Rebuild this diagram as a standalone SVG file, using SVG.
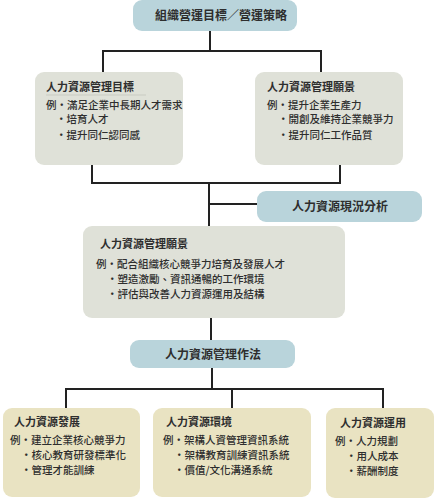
<svg xmlns="http://www.w3.org/2000/svg" width="435" height="500" viewBox="0 0 435 500">
<style>
text{font-family:"Noto Sans CJK TC","Noto Sans CJK SC",sans-serif;fill:#2e2e2e}
.blue{fill:#b9d4db}
.gray{fill:#dfe1d8}
.beige{fill:#e9e3c2}
.h{font-size:12px;font-weight:bold}
.t{font-size:11px;font-weight:bold}
.b{font-size:10.5px;font-weight:500}
.ln{stroke:#222;stroke-width:2;fill:none}
</style>
<rect width="435" height="500" fill="#fff"/>
<g id="connectors">
<path class="ln" d="M210,31 V51 M103,72 V51 H321 V72"/>
<path class="ln" d="M92,165 V183 H340 V165 M209,183 V226 M209,204 H257"/>
<path class="ln" d="M211,318 V340"/>
<path class="ln" d="M212,368 V389 M66,408 V389 H383 V408 M232,389 V408"/>
</g>
<g id="n-top">
<rect class="blue" x="133" y="0" width="164" height="31" rx="9"/>
<text class="h" x="221" y="20" text-anchor="middle">組織營運目標／營運策略</text>
</g>
<g id="n-goal">
<rect class="gray" x="35" y="72" width="148" height="93" rx="9"/>
<text class="t" x="46" y="91">人力資源管理目標</text>
<line x1="46" y1="95" x2="146" y2="95" stroke="#c9cbc2" stroke-width="1"/>
<text class="b" x="46" y="109">例・滿足企業中長期人才需求</text>
<text class="b" x="56" y="123">・培育人才</text>
<text class="b" x="56" y="139">・提升同仁認同感</text>
</g>
<g id="n-vision1">
<rect class="gray" x="255" y="72" width="148" height="93" rx="9"/>
<text class="t" x="267" y="91">人力資源管理願景</text>
<text class="b" x="267" y="109">例・提升企業生產力</text>
<text class="b" x="278" y="123">・開創及維持企業競爭力</text>
<text class="b" x="278" y="139">・提升同仁工作品質</text>
</g>
<g id="n-analysis">
<rect class="blue" x="257" y="191" width="165" height="31" rx="9"/>
<text class="h" x="340" y="211" text-anchor="middle">人力資源現況分析</text>
</g>
<g id="n-vision2">
<rect class="gray" x="83" y="226" width="262" height="92" rx="9"/>
<text class="t" x="100" y="248">人力資源管理願景</text>
<text class="b" x="96" y="268">例・配合組織核心競爭力培育及發展人才</text>
<text class="b" x="107" y="283">・塑造激勵、資訊通暢的工作環境</text>
<text class="b" x="107" y="298">・評估與改善人力資源運用及結構</text>
</g>
<g id="n-method">
<rect class="blue" x="130" y="340" width="165" height="28" rx="9"/>
<text class="h" x="213" y="359" text-anchor="middle">人力資源管理作法</text>
</g>
<g id="n-dev">
<rect class="beige" x="3" y="408" width="137" height="89" rx="9"/>
<text class="t" x="14" y="426">人力資源發展</text>
<text class="b" x="10" y="444">例・建立企業核心競爭力</text>
<text class="b" x="21" y="459">・核心教育研發標準化</text>
<text class="b" x="21" y="474">・管理才能訓練</text>
</g>
<g id="n-env">
<rect class="beige" x="153" y="408" width="158" height="89" rx="9"/>
<text class="t" x="166" y="426">人力資源環境</text>
<text class="b" x="163" y="444">例・架構人資管理資訊系統</text>
<text class="b" x="174" y="459">・架構教育訓練資訊系統</text>
<text class="b" x="174" y="474">・價值/文化溝通系統</text>
</g>
<g id="n-use">
<rect class="beige" x="326" y="408" width="108" height="90" rx="9"/>
<text class="t" x="340" y="427">人力資源運用</text>
<text class="b" x="335" y="445">例・人力規劃</text>
<text class="b" x="346" y="460">・用人成本</text>
<text class="b" x="346" y="475">・薪酬制度</text>
</g>
</svg>
